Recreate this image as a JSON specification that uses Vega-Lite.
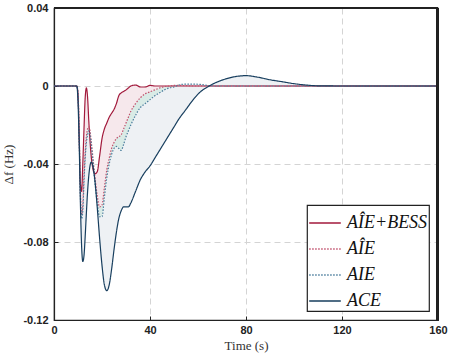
{
  "$schema": "https://vega.github.io/schema/vega-lite/v6.json",
  "width": 384,
  "height": 312,
  "autosize": {"type": "none"},
  "padding": {"left": 54, "top": 8, "right": 11, "bottom": 39},
  "background": "white",
  "config": {
    "view": {"stroke": "#222222", "strokeWidth": 1.2},
    "axis": {
      "domain": true,
      "domainColor": "#222222",
      "domainWidth": 1.2,
      "grid": true,
      "gridColor": "#d4d4d4",
      "gridDash": [6, 4],
      "gridWidth": 1,
      "tickColor": "#222222",
      "tickSize": -4,
      "labelFlush": false,
      "labelFont": "Liberation Sans",
      "labelFontWeight": "bold",
      "labelFontSize": 11,
      "labelColor": "#222222",
      "titleFont": "Liberation Serif",
      "titleFontWeight": "normal",
      "titleFontSize": 13,
      "titleColor": "#333333"
    },
    "legend": {
      "orient": "bottom-right",
      "offset": 9,
      "strokeColor": "#222222",
      "strokeWidth": 1.2,
      "fillColor": "white",
      "padding": 1,
      "labelFont": "Liberation Serif",
      "labelFontStyle": "italic",
      "labelFontSize": 18,
      "labelColor": "#111111",
      "labelLimit": 300,
      "labelOffset": 5,
      "symbolType": "M-1,0H1",
      "symbolSize": 1000,
      "symbolStrokeWidth": 1.5,
      "rowPadding": -11,
      "title": null
    }
  },
  "data": {
    "values": [
      {"t": 0, "bess": 0, "aiehat": 0, "aie": 0, "ace": 0},
      {"t": 9.5, "bess": 0, "aiehat": 0, "aie": 0, "ace": 0},
      {"t": 10, "bess": -0.004, "aiehat": -0.004, "aie": -0.004, "ace": -0.008},
      {"t": 10.5, "bess": -0.025, "aiehat": -0.025, "aie": -0.026, "ace": -0.03},
      {"t": 11, "bess": -0.05, "aiehat": -0.055, "aie": -0.057, "ace": -0.06},
      {"t": 11.5, "bess": -0.054, "aiehat": -0.066, "aie": -0.068, "ace": -0.082},
      {"t": 12, "bess": -0.04, "aiehat": -0.061, "aie": -0.064, "ace": -0.09},
      {"t": 12.5, "bess": -0.022, "aiehat": -0.046, "aie": -0.049, "ace": -0.087},
      {"t": 13, "bess": -0.006, "aiehat": -0.034, "aie": -0.037, "ace": -0.077},
      {"t": 13.5, "bess": -0.001, "aiehat": -0.026, "aie": -0.029, "ace": -0.065},
      {"t": 14, "bess": -0.006, "aiehat": -0.022, "aie": -0.025, "ace": -0.054},
      {"t": 14.5, "bess": -0.018, "aiehat": -0.021, "aie": -0.023, "ace": -0.046},
      {"t": 15, "bess": -0.028, "aiehat": -0.023, "aie": -0.025, "ace": -0.041},
      {"t": 15.5, "bess": -0.036, "aiehat": -0.028, "aie": -0.03, "ace": -0.039},
      {"t": 16, "bess": -0.041, "aiehat": -0.034, "aie": -0.036, "ace": -0.04},
      {"t": 17, "bess": -0.045, "aiehat": -0.046, "aie": -0.049, "ace": -0.048},
      {"t": 18, "bess": -0.044, "aiehat": -0.056, "aie": -0.06, "ace": -0.062},
      {"t": 19, "bess": -0.036, "aiehat": -0.062, "aie": -0.067, "ace": -0.078},
      {"t": 20, "bess": -0.027, "aiehat": -0.061, "aie": -0.067, "ace": -0.092},
      {"t": 21, "bess": -0.022, "aiehat": -0.052, "aie": -0.057, "ace": -0.102},
      {"t": 22, "bess": -0.019, "aiehat": -0.043, "aie": -0.047, "ace": -0.105},
      {"t": 23, "bess": -0.016, "aiehat": -0.037, "aie": -0.04, "ace": -0.102},
      {"t": 24, "bess": -0.014, "aiehat": -0.032, "aie": -0.035, "ace": -0.094},
      {"t": 25, "bess": -0.012, "aiehat": -0.029, "aie": -0.032, "ace": -0.084},
      {"t": 26, "bess": -0.009, "aiehat": -0.027, "aie": -0.031, "ace": -0.075},
      {"t": 27, "bess": -0.005, "aiehat": -0.026, "aie": -0.032, "ace": -0.068},
      {"t": 28, "bess": -0.0035, "aiehat": -0.025, "aie": -0.033, "ace": -0.064},
      {"t": 29, "bess": -0.0028, "aiehat": -0.022, "aie": -0.03, "ace": -0.062},
      {"t": 30, "bess": -0.002, "aiehat": -0.019, "aie": -0.026, "ace": -0.062},
      {"t": 31, "bess": -0.001, "aiehat": -0.016, "aie": -0.023, "ace": -0.062},
      {"t": 32, "bess": 0, "aiehat": -0.013, "aie": -0.02, "ace": -0.06},
      {"t": 34, "bess": 0.0005, "aiehat": -0.009, "aie": -0.015, "ace": -0.054},
      {"t": 36, "bess": -0.0005, "aiehat": -0.006, "aie": -0.011, "ace": -0.048},
      {"t": 38, "bess": -0.0005, "aiehat": -0.004, "aie": -0.009, "ace": -0.044},
      {"t": 40, "bess": 0.0003, "aiehat": -0.003, "aie": -0.007, "ace": -0.041},
      {"t": 42, "bess": 0, "aiehat": -0.002, "aie": -0.005, "ace": -0.037},
      {"t": 44, "bess": 0, "aiehat": -0.001, "aie": -0.0035, "ace": -0.033},
      {"t": 46, "bess": 0, "aiehat": -0.0003, "aie": -0.002, "ace": -0.029},
      {"t": 48, "bess": 0, "aiehat": 0, "aie": -0.001, "ace": -0.025},
      {"t": 50, "bess": 0, "aiehat": 0.0003, "aie": -0.0005, "ace": -0.021},
      {"t": 52, "bess": 0, "aiehat": 0.0003, "aie": 0.0005, "ace": -0.017},
      {"t": 55, "bess": 0, "aiehat": 0.0002, "aie": 0.001, "ace": -0.012},
      {"t": 58, "bess": 0, "aiehat": 0, "aie": 0.001, "ace": -0.007},
      {"t": 61, "bess": 0, "aiehat": 0, "aie": 0.0008, "ace": -0.003},
      {"t": 64, "bess": 0, "aiehat": 0, "aie": 0.0003, "ace": -0.0005},
      {"t": 67, "bess": 0, "aiehat": 0, "aie": 0, "ace": 0.0015},
      {"t": 70, "bess": 0, "aiehat": 0, "aie": 0, "ace": 0.003},
      {"t": 75, "bess": 0, "aiehat": 0, "aie": 0, "ace": 0.0047},
      {"t": 80, "bess": 0, "aiehat": 0, "aie": 0, "ace": 0.0053},
      {"t": 85, "bess": 0, "aiehat": 0, "aie": 0, "ace": 0.0045},
      {"t": 90, "bess": 0, "aiehat": 0, "aie": 0, "ace": 0.0032},
      {"t": 95, "bess": 0, "aiehat": 0, "aie": 0, "ace": 0.0022},
      {"t": 100, "bess": 0, "aiehat": 0, "aie": 0, "ace": 0.0012},
      {"t": 105, "bess": 0, "aiehat": 0, "aie": 0, "ace": 0.0005},
      {"t": 110, "bess": 0, "aiehat": 0, "aie": 0, "ace": 0.0001},
      {"t": 120, "bess": 0, "aiehat": 0, "aie": 0, "ace": 0},
      {"t": 160, "bess": 0, "aiehat": 0, "aie": 0, "ace": 0}
    ]
  },
  "layer": [
    {
      "mark": {"type": "area", "interpolate": "monotone", "color": "#f6e8ec", "opacity": 1},
      "encoding": {
        "x": {
          "field": "t",
          "type": "quantitative",
          "scale": {"domain": [0, 160], "nice": false},
          "axis": {
            "values": [0, 40, 80, 120, 160],
            "title": "Time (s)",
            "labelPadding": 8,
            "titlePadding": 4,
            "gridOpacity": {"condition": {"test": "datum.value == 0 || datum.value == 160", "value": 0}, "value": 1}
          }
        },
        "y": {
          "field": "bess",
          "type": "quantitative",
          "scale": {"domain": [-0.12, 0.04], "nice": false},
          "axis": {
            "values": [-0.12, -0.08, -0.04, 0, 0.04],
            "labelExpr": "datum.value == 0 ? '0' : (datum.value < 0 ? '-' : '') + format(abs(datum.value), '.2f')",
            "title": "Δf (Hz)",
            "labelPadding": 10,
            "titlePadding": 7,
            "gridOpacity": {"condition": {"test": "abs(datum.value - 0.04) < 0.001 || abs(datum.value + 0.12) < 0.001", "value": 0}, "value": 1}
          }
        },
        "y2": {"field": "aiehat"}
      }
    },
    {
      "mark": {"type": "area", "interpolate": "monotone", "color": "#d9ebe6", "opacity": 1},
      "encoding": {
        "x": {"field": "t", "type": "quantitative"},
        "y": {"field": "aiehat", "type": "quantitative"},
        "y2": {"field": "aie"}
      }
    },
    {
      "mark": {"type": "area", "interpolate": "monotone", "color": "#eef1f4", "opacity": 1},
      "encoding": {
        "x": {"field": "t", "type": "quantitative"},
        "y": {"field": "aie", "type": "quantitative"},
        "y2": {"field": "ace"}
      }
    },
    {
      "transform": [{"fold": ["bess", "aiehat", "aie", "ace"], "as": ["series", "value"]}],
      "mark": {"type": "line", "interpolate": "monotone", "strokeWidth": 1.2},
      "encoding": {
        "x": {"field": "t", "type": "quantitative"},
        "y": {"field": "value", "type": "quantitative"},
        "color": {
          "field": "series",
          "type": "nominal",
          "scale": {"domain": ["bess", "aiehat", "aie", "ace"], "range": ["#a21a3c", "#c2506c", "#4a7d9c", "#173e5e"]},
          "legend": {"labelExpr": "{'bess': 'AÎE+BESS', 'aiehat': 'AÎE', 'aie': 'AIE', 'ace': 'ACE'}[datum.label]"}
        },
        "strokeDash": {
          "field": "series",
          "type": "nominal",
          "scale": {"domain": ["bess", "aiehat", "aie", "ace"], "range": [[1, 0], [1.5, 1.5], [1.5, 1.5], [1, 0]]},
          "legend": {"labelExpr": "{'bess': 'AÎE+BESS', 'aiehat': 'AÎE', 'aie': 'AIE', 'ace': 'ACE'}[datum.label]"}
        }
      }
    },
    {
      "mark": {"type": "rule", "color": "#222222", "strokeWidth": 1.4},
      "encoding": {"x": {"datum": 0}, "x2": {"datum": 160}, "y": {"datum": 0.0398}}
    },
    {
      "mark": {"type": "rule", "color": "#222222", "strokeWidth": 1.4},
      "encoding": {"x": {"datum": 159.8}, "y": {"datum": -0.12}, "y2": {"datum": 0.04}}
    }
  ]
}
